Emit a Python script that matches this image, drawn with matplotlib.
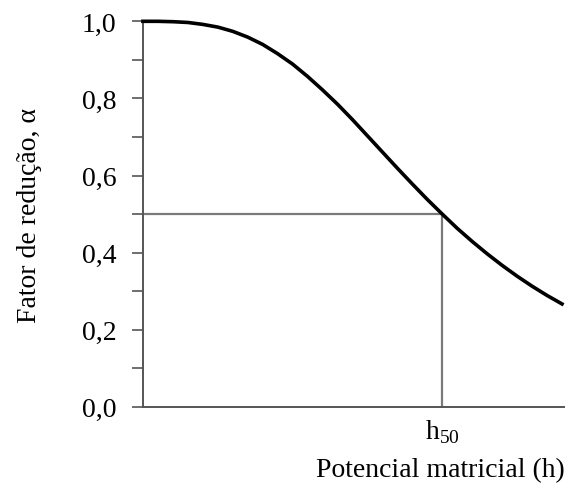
import matplotlib
matplotlib.use("Agg")
import matplotlib.pyplot as plt
from matplotlib.ticker import MultipleLocator

plt.rcParams['font.family'] = ['Liberation Serif', 'DejaVu Serif']
plt.rcParams['mathtext.fontset'] = 'custom'
plt.rcParams['mathtext.rm'] = 'Liberation Serif'

# h / h50 and reduction factor alpha
h_rel = [0.0, 0.05, 0.1, 0.15, 0.2, 0.25, 0.3, 0.35, 0.4, 0.45, 0.5, 0.55,
         0.6, 0.65, 0.7, 0.75, 0.8, 0.85, 0.9, 0.95, 1.0, 1.05, 1.1, 1.15,
         1.2, 1.25, 1.3, 1.35, 1.4]
alpha = [1.0, 1.0, 0.999, 0.997, 0.992, 0.985, 0.974, 0.959, 0.940, 0.916,
         0.889, 0.857, 0.822, 0.785, 0.745, 0.703, 0.661, 0.619, 0.578, 0.538,
         0.500, 0.463, 0.429, 0.397, 0.367, 0.339, 0.313, 0.289, 0.267]
h50 = 1.0
alpha50 = 0.5
yticks = [0.0, 0.2, 0.4, 0.6, 0.8, 1.0]
ytick_labels = ['0,0', '0,2', '0,4', '0,6', '0,8', '1,0']

fig = plt.figure(figsize=(5.65, 4.85), dpi=100)
ax = fig.add_axes([0.253, 0.159, 0.747, 0.795])

ax.plot(h_rel, alpha, color='black', lw=2.6, clip_on=False, zorder=3,
        solid_joinstyle='round')
ax.plot([0, h50, h50], [alpha50, alpha50, 0], color='#7a7a7a', lw=1.6, zorder=2)

ax.set_xlim(0, 1.41)
ax.set_ylim(0, 1.0)
for s in ['top', 'right']:
    ax.spines[s].set_visible(False)
for s in ['left', 'bottom']:
    ax.spines[s].set_color('#555555')
    ax.spines[s].set_linewidth(1.4)

ax.set_yticks(yticks)
ax.set_yticklabels(ytick_labels, fontsize=20)
ax.yaxis.set_minor_locator(MultipleLocator(0.1))
ax.tick_params(axis='y', which='both', direction='out', length=8, width=1.2,
               color='#555555', pad=11)
ax.set_xticks([])

ax.text(h50, -0.028, r'h$_{50}$', ha='center', va='top', fontsize=20)
ax.set_xlabel('Potencial matricial (h)', fontsize=20, loc='right', labelpad=36)
ax.set_ylabel('Fator de redução, α', fontsize=20, labelpad=29)

fig.savefig('out.png', dpi=100)
